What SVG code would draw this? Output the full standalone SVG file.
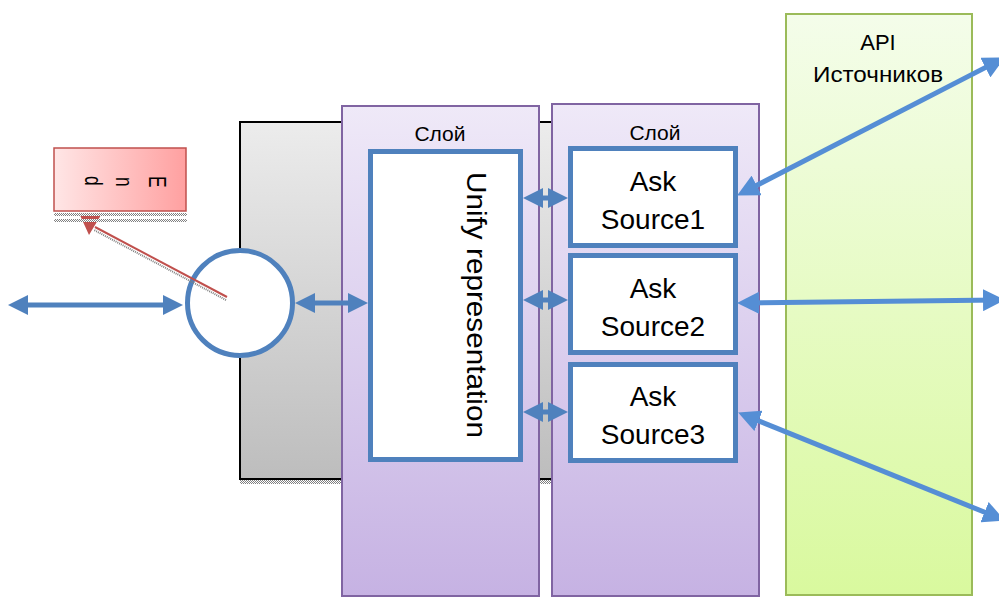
<svg xmlns="http://www.w3.org/2000/svg" width="999" height="597" viewBox="0 0 999 597">
  <defs>
    <linearGradient id="gGray" x1="0" y1="0" x2="0" y2="1">
      <stop offset="0" stop-color="#ececec"/>
      <stop offset="1" stop-color="#bdbdbd"/>
    </linearGradient>
    <linearGradient id="gPurple" x1="0" y1="0" x2="0" y2="1">
      <stop offset="0" stop-color="#efe9f8"/>
      <stop offset="1" stop-color="#c6b2e3"/>
    </linearGradient>
    <linearGradient id="gGreen" x1="0" y1="0" x2="0" y2="1">
      <stop offset="0" stop-color="#f4fdea"/>
      <stop offset="1" stop-color="#d9f99e"/>
    </linearGradient>
    <linearGradient id="gRed" x1="0" y1="0" x2="1" y2="0">
      <stop offset="0" stop-color="#ffe6e6"/>
      <stop offset="1" stop-color="#ffa0a0"/>
    </linearGradient>
    <pattern id="hatch" width="2" height="2" patternUnits="userSpaceOnUse">
      <rect width="2" height="2" fill="#ffffff"/>
      <rect width="1" height="1" fill="#808080"/>
      <rect x="1" y="1" width="1" height="1" fill="#808080"/>
    </pattern>
    <marker id="headA" markerUnits="userSpaceOnUse" markerWidth="20" markerHeight="20" viewBox="0 0 20 20" refX="14" refY="10" orient="auto-start-reverse">
      <path d="M0,0 L20,10 L0,20 z" fill="#4f81bd"/>
    </marker>
    <marker id="headB" markerUnits="userSpaceOnUse" markerWidth="22" markerHeight="22" viewBox="0 0 22 22" refX="15" refY="11" orient="auto-start-reverse">
      <path d="M0,0 L22,11 L0,22 z" fill="#558ed5"/>
    </marker>
    <style>
      .layer { fill: url(#gPurple); stroke: #8064a2; stroke-width: 2; }
      .box { fill: #ffffff; stroke: #4f81bd; stroke-width: 5; }
      .lbl { font-family: "Liberation Sans", Arial, sans-serif; fill: #000000; text-anchor: middle; }
      .arrA { stroke: #4f81bd; stroke-width: 5; fill: none; marker-start: url(#headA); marker-end: url(#headA); }
      .arrB { stroke: #558ed5; stroke-width: 5; fill: none; marker-start: url(#headB); marker-end: url(#headB); }
    </style>
  </defs>

  <rect width="999" height="597" fill="#ffffff"/>

  <!-- back panel -->
  <g id="panel">
    <rect x="240" y="122" width="316" height="357" fill="url(#gGray)" stroke="#000000" stroke-width="2"/>
    <rect x="240" y="480" width="316" height="4" fill="url(#hatch)"/>
  </g>

  <!-- entry point -->
  <g id="port">
    <circle cx="240" cy="303" r="52.5" fill="#ffffff" stroke="#4f81bd" stroke-width="5"/>
  </g>

  <!-- layer 1 -->
  <g id="layer1">
    <rect class="layer" x="342" y="106" width="197" height="490"/>
    <text class="lbl" x="440" y="141" font-size="21">Слой</text>
  </g>

  <!-- layer 2 -->
  <g id="layer2">
    <rect class="layer" x="552" y="104" width="207" height="492"/>
    <text class="lbl" x="655" y="140" font-size="21">Слой</text>
  </g>

  <!-- source APIs -->
  <g id="api">
    <rect x="786" y="14" width="186" height="581" fill="url(#gGreen)" stroke="#9bbb59" stroke-width="2"/>
    <text class="lbl" x="878" y="50" font-size="22">API</text>
    <text class="lbl" x="878" y="82" font-size="22" textLength="130" lengthAdjust="spacingAndGlyphs">Источников</text>
  </g>

  <!-- unify representation -->
  <g id="unify">
    <rect class="box" x="370.5" y="151.5" width="150" height="308"/>
    <text class="lbl" transform="translate(467,305) rotate(90)" font-size="28" textLength="266" lengthAdjust="spacingAndGlyphs">Unify representation</text>
  </g>

  <!-- ask source nodes -->
  <g id="ask1">
    <rect class="box" x="570.5" y="148.5" width="165" height="97"/>
    <text class="lbl" x="653" y="191" font-size="28">Ask</text>
    <text class="lbl" x="653" y="229" font-size="28">Source1</text>
  </g>
  <g id="ask2">
    <rect class="box" x="570.5" y="255.5" width="165" height="97"/>
    <text class="lbl" x="653" y="298" font-size="28">Ask</text>
    <text class="lbl" x="653" y="336" font-size="28">Source2</text>
  </g>
  <g id="ask3">
    <rect class="box" x="570.5" y="364.5" width="165" height="96"/>
    <text class="lbl" x="653" y="406" font-size="28">Ask</text>
    <text class="lbl" x="653" y="444" font-size="28">Source3</text>
  </g>

  <!-- end callout -->
  <g id="end">
    <rect x="54" y="148" width="132" height="63" fill="url(#gRed)" stroke="#c0504d" stroke-width="1.5"/>
    <g font-family="Liberation Sans, Arial, sans-serif" font-size="24" fill="#000000">
      <text transform="translate(149,176) rotate(90) scale(0.72,1)">E</text>
      <text transform="translate(116,177) rotate(90) scale(0.72,1)">n</text>
      <text transform="translate(85,176) rotate(90) scale(0.72,1)">d</text>
    </g>
  </g>

  <!-- connectors -->
  <g id="connectors">
    <line class="arrA" x1="14" y1="305" x2="177" y2="305"/>
    <line class="arrA" x1="301" y1="303" x2="362" y2="303"/>
    <line class="arrA" x1="529" y1="198" x2="562" y2="198"/>
    <line class="arrA" x1="529" y1="300" x2="562" y2="300"/>
    <line class="arrA" x1="529" y1="412" x2="562" y2="412"/>
    <line class="arrB" x1="743.3" y1="192.3" x2="998.7" y2="60.7"/>
    <line class="arrB" x1="744" y1="303" x2="998" y2="300"/>
    <line class="arrB" x1="744.6" y1="415.2" x2="998.4" y2="517.8"/>

    <!-- callout pointer with its shadow -->
    <line x1="226" y1="300" x2="94" y2="230" stroke="#808080" stroke-width="2" stroke-dasharray="1 1"/>
    <line x1="227" y1="297" x2="95" y2="227" stroke="#c0504d" stroke-width="2"/>
    <polygon points="79,213 89,235 101,215" fill="#c0504d"/>
    <rect x="54" y="213" width="133" height="3" fill="url(#hatch)"/>
    <rect x="54" y="219" width="133" height="3" fill="url(#hatch)"/>
  </g>
</svg>
